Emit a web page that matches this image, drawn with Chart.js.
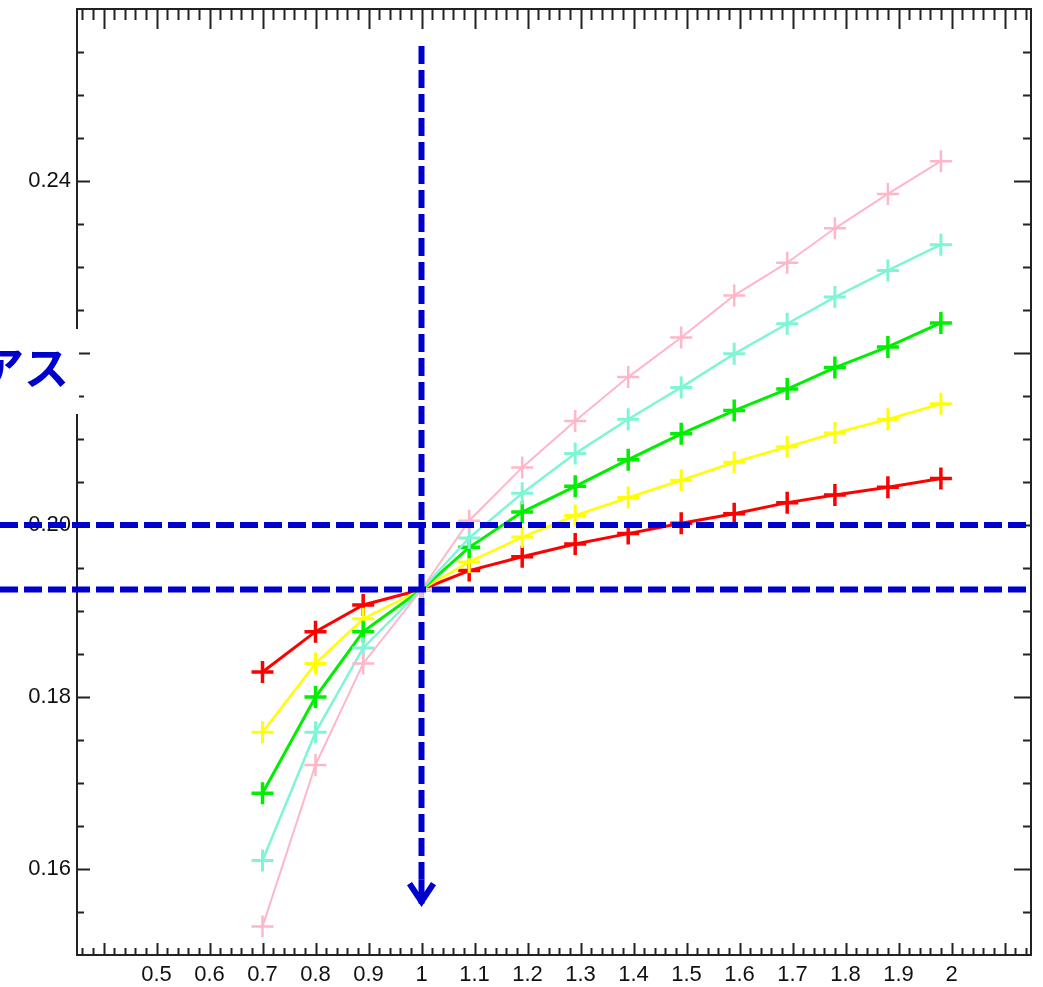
<!DOCTYPE html>
<html>
<head>
<meta charset="utf-8">
<script src="https://cdn.jsdelivr.net/npm/chart.js@4.4.1/dist/chart.umd.min.js"></script>
<style>
  html, body { margin: 0; padding: 0; background: #fff; }
  canvas { display: block; }
</style>
</head>
<body>
<canvas id="chart" width="1043" height="987"></canvas>
<script>
// x positions of the markers
const xValues = [0.70, 0.80, 0.89, 1.00, 1.09, 1.19, 1.29, 1.39, 1.49, 1.59, 1.69, 1.78, 1.88, 1.98];

const pinkSeries   = [0.1533, 0.1721, 0.1839, 0.1925, 0.2005, 0.2067, 0.2121, 0.2172, 0.2218, 0.2267, 0.2305, 0.2345, 0.2385, 0.2423];
const cyanSeries   = [0.1610, 0.1759, 0.1857, 0.1925, 0.1985, 0.2037, 0.2083, 0.2123, 0.2160, 0.2199, 0.2234, 0.2265, 0.2296, 0.2326];
const greenSeries  = [0.1688, 0.1800, 0.1876, 0.1925, 0.1974, 0.2015, 0.2045, 0.2076, 0.2106, 0.2133, 0.2158, 0.2183, 0.2207, 0.2235];
const yellowSeries = [0.1759, 0.1839, 0.1891, 0.1925, 0.1957, 0.1986, 0.2011, 0.2032, 0.2052, 0.2073, 0.2091, 0.2107, 0.2123, 0.2141];
const redSeries    = [0.1829, 0.1876, 0.1907, 0.1925, 0.1947, 0.1963, 0.1978, 0.1990, 0.2002, 0.2013, 0.2026, 0.2035, 0.2044, 0.2054];

// axis ranges and labelled ticks
const xRange = [0.35, 2.15];
const yRange = [0.15, 0.26];
const xTickLabels = ['0.5', '0.6', '0.7', '0.8', '0.9', '1', '1.1', '1.2', '1.3', '1.4', '1.5', '1.6', '1.7', '1.8', '1.9', '2'];
const yTickLabels = ['0.16', '0.18', '0.20', '0.22', '0.24'];

// blue dashed guide lines
const guideY = [0.2, 0.1925];
const guideX = 1;
const guideXSpan = [0.2557, 0.1555];

const noteText = 'アス';

const series = [
  { data: pinkSeries, color: '#ffb6c8', width: 2, pw: 2.5 },
  { data: cyanSeries, color: '#7ff5d6', width: 2.5, pw: 3 },
  { data: greenSeries, color: '#00ee00', width: 3, pw: 3.5 },
  { data: yellowSeries, color: '#ffff00', width: 2.5, pw: 3 },
  { data: redSeries, color: '#ff0000', width: 3, pw: 3.5 },
];

const toPoints = (ys) => ys.map((y, i) => ({ x: xValues[i], y }));

const BLUE = '#0000cc';

const decorations = {
  id: 'decorations',
  afterDraw(chart) {
    const { ctx, chartArea: a, scales: { x, y } } = chart;
    ctx.save();

    // inward ticks on all four sides
    ctx.strokeStyle = '#222';
    ctx.lineWidth = 2;
    ctx.beginPath();
    for (let i = Math.ceil(x.min / 0.02 - 1e-9); i * 0.02 <= x.max + 1e-9; i++) {
      const v = i * 0.02;
      if (v <= x.min + 1e-9 || v >= x.max - 1e-9) continue;
      const px = Math.round(x.getPixelForValue(v)) + 0.5;
      const major = i % 5 === 0;
      ctx.moveTo(px, a.bottom);
      ctx.lineTo(px, a.bottom - (major ? 12 : 7));
      ctx.moveTo(px, a.top);
      ctx.lineTo(px, a.top + (major ? 20 : 11));
    }
    for (let i = Math.ceil(y.min / 0.005 - 1e-9); i * 0.005 <= y.max + 1e-9; i++) {
      const v = i * 0.005;
      if (v <= y.min + 1e-9 || v >= y.max - 1e-9) continue;
      const py = Math.round(y.getPixelForValue(v)) + 0.5;
      const major = i % 4 === 0;
      ctx.moveTo(a.left, py);
      ctx.lineTo(a.left + (major ? 13 : 7), py);
      ctx.moveTo(a.right, py);
      ctx.lineTo(a.right - (major ? 17 : 8), py);
    }
    ctx.stroke();

    // frame
    ctx.lineWidth = 2;
    ctx.strokeRect(a.left, a.top, a.right - a.left, a.bottom - a.top);

    // blue dashed guides
    ctx.strokeStyle = BLUE;
    ctx.lineWidth = 6;
    ctx.setLineDash([18, 6]);
    guideY.forEach((v) => {
      const py = y.getPixelForValue(v);
      ctx.beginPath();
      ctx.moveTo(0, py);
      ctx.lineTo(a.right, py);
      ctx.stroke();
    });
    const gx = x.getPixelForValue(guideX);
    const y0 = y.getPixelForValue(guideXSpan[0]);
    const tip = y.getPixelForValue(guideXSpan[1]);
    ctx.beginPath();
    ctx.moveTo(gx, y0);
    ctx.lineTo(gx, tip - 28);
    ctx.stroke();
    ctx.setLineDash([]);
    ctx.beginPath();
    ctx.moveTo(gx, tip - 28);
    ctx.lineTo(gx, tip - 4);
    ctx.stroke();
    ctx.lineJoin = 'miter';
    ctx.beginPath();
    ctx.moveTo(gx - 12, tip - 24);
    ctx.lineTo(gx, tip - 6);
    ctx.lineTo(gx + 12, tip - 24);
    ctx.stroke();

    // cropped note box on the left
    const cy = y.getPixelForValue(0.22);
    ctx.fillStyle = '#fff';
    ctx.fillRect(0, cy - 24, a.left + 2, 85);
    ctx.fillStyle = BLUE;
    ctx.font = 'bold 45px "Noto Sans CJK JP"';
    ctx.textAlign = 'right';
    ctx.textBaseline = 'middle';
    ctx.fillText(noteText, 69, cy + 15);

    ctx.restore();
  },
};

const labelFont = { family: '"Liberation Sans", Arial', size: 22 };

new Chart(document.getElementById('chart'), {
  type: 'line',
  data: {
    datasets: series.map((s) => ({
      data: toPoints(s.data),
      borderColor: s.color,
      backgroundColor: s.color,
      borderWidth: s.width,
      pointStyle: 'cross',
      pointRadius: 11,
      pointBorderWidth: s.pw,
      pointBorderColor: s.color,
      tension: 0,
      fill: false,
    })),
  },
  options: {
    responsive: false,
    animation: false,
    layout: { autoPadding: false, padding: { top: 9, right: 12, left: 0, bottom: 0 } },
    plugins: { legend: { display: false }, tooltip: { enabled: false } },
    scales: {
      x: {
        type: 'linear',
        min: xRange[0],
        max: xRange[1],
        afterBuildTicks: (s) => { s.ticks = xTickLabels.map((l) => ({ value: parseFloat(l) })); },
        afterFit: (s) => { s.height = 32; s.paddingLeft = 0; s.paddingRight = 0; },
        grid: { display: false, drawTicks: false },
        border: { display: false },
        ticks: {
          autoSkip: false,
          maxRotation: 0,
          padding: 7,
          color: '#111',
          font: labelFont,
          callback: (v) => String(Math.round(v * 10) / 10),
        },
      },
      y: {
        type: 'linear',
        min: yRange[0],
        max: yRange[1],
        afterBuildTicks: (s) => { s.ticks = yTickLabels.map((l) => ({ value: parseFloat(l) })); },
        afterFit: (s) => { s.width = 77; s.paddingTop = 0; s.paddingBottom = 0; },
        grid: { display: false, drawTicks: false },
        border: { display: false },
        ticks: {
          autoSkip: false,
          padding: 6,
          color: '#111',
          font: labelFont,
          callback: (v) => (Math.round(v * 100) / 100).toFixed(2),
        },
      },
    },
  },
  plugins: [decorations],
});
</script>
</body>
</html>
